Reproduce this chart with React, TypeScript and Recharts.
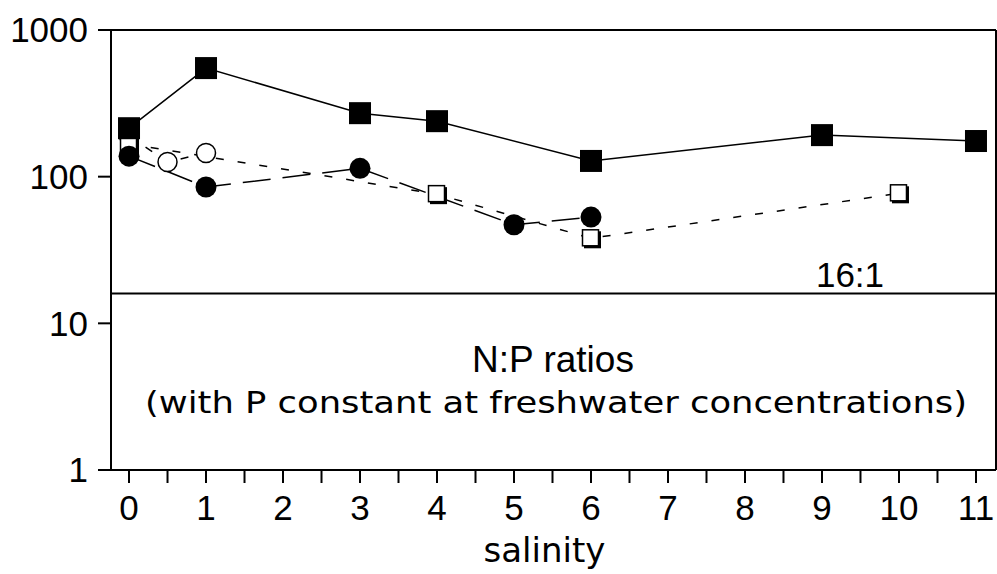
import { LineChart, Line, XAxis, YAxis, ReferenceLine } from "recharts"

// salinity vs N:P ratio, four series
const filledSquareSalinity = [0, 1, 3, 4, 6, 9, 11]
const filledSquareRatio = [214, 550, 271, 239, 128, 192, 175]

const filledCircleSalinity = [0, 1, 3, 5, 6]
const filledCircleRatio = [138, 85, 114, 47, 53]

const openCircleSalinity = [0, 0.5, 1]
const openCircleRatio = [190, 126, 145]

const openSquareSalinity = [0, 4, 6, 10]
const openSquareRatio = [167, 76, 38, 77]

const salinityTicks = [0, 0.5, 1, 1.5, 2, 2.5, 3, 3.5, 4, 4.5, 5, 5.5, 6, 6.5, 7, 7.5, 8, 8.5, 9, 9.5, 10, 10.5, 11]
const ratioTicks = [1, 10, 100, 1000]
const redfieldRatio = 16

const toPoints = (xs: number[], ys: number[]) => xs.map((s, i) => ({ salinity: s, ratio: ys[i] }))

const font = "'Liberation Sans', Arial, sans-serif"
const wideFont = "'DejaVu Sans', sans-serif"
const ink = "#000"

const FilledSquare = (p: any) =>
  p.cx == null ? null : <rect key={`fs-${p.index}`} x={p.cx - 11} y={p.cy - 11} width={22} height={22} fill={ink} />

const FilledCircle = (p: any) =>
  p.cx == null ? null : <circle key={`fc-${p.index}`} cx={p.cx} cy={p.cy} r={10.5} fill={ink} />

const OpenCircle = (p: any) =>
  p.cx == null ? null : (
    <circle key={`oc-${p.index}`} cx={p.cx} cy={p.cy} r={9.5} fill="#fff" stroke={ink} strokeWidth={1.5} />
  )

const OpenSquare = (p: any) =>
  p.cx == null ? null : (
    <g key={`os-${p.index}`}>
      <rect x={p.cx - 7} y={p.cy - 7} width={17} height={17} fill={ink} />
      <rect x={p.cx - 8.5} y={p.cy - 8.5} width={16} height={16} fill="#fff" stroke={ink} strokeWidth={1.5} />
    </g>
  )

const RatioLabel = (props: any) => {
  const vb = props.viewBox
  return (
    <text x={vb.x + vb.width - 146} y={vb.y - 6} textAnchor="middle" fontFamily={font} fontSize={35} fill={ink}>
      16:1
    </text>
  )
}

export default function App() {
  return (
    <div style={{ position: "absolute", left: 0, top: 0, background: "#fff" }}>
      <LineChart width={997} height={574} margin={{ top: 30, right: 1, left: 0, bottom: 0 }}>
        <XAxis
          dataKey="salinity"
          type="number"
          domain={[-0.234, 11.26]}
          allowDataOverflow
          ticks={salinityTicks}
          interval={0}
          tickFormatter={(v: number) => (Number.isInteger(v) ? String(v) : "")}
          tickSize={13}
          tickMargin={12}
          height={104}
          stroke={ink}
          strokeWidth={2}
          tick={{ fontFamily: font, fontSize: 35, fill: ink }}
          label={{
            value: "salinity",
            position: "insideBottom",
            offset: 12,
            dx: -9,
            style: { fontFamily: wideFont, fontSize: 34, fill: ink },
          }}
        />
        <YAxis
          scale="log"
          domain={[1, 1000]}
          allowDataOverflow
          ticks={ratioTicks}
          interval={0}
          width={111}
          tickSize={13}
          tickMargin={10}
          stroke={ink}
          strokeWidth={2}
          tick={{ fontFamily: font, fontSize: 35, fill: ink }}
        />
        <ReferenceLine y={1000} stroke={ink} strokeWidth={2} />
        <ReferenceLine x={11.26} stroke={ink} strokeWidth={2} />
        <ReferenceLine y={redfieldRatio} stroke={ink} strokeWidth={2} label={<RatioLabel />} />

        <Line
          data={toPoints(openCircleSalinity, openCircleRatio)}
          dataKey="ratio"
          stroke={ink}
          strokeWidth={1.5}
          strokeDasharray="8 12"
          dot={OpenCircle}
          activeDot={false}
          isAnimationActive={false}
        />
        <Line
          data={toPoints(openSquareSalinity, openSquareRatio)}
          dataKey="ratio"
          stroke={ink}
          strokeWidth={1.5}
          strokeDasharray="8 14"
          dot={OpenSquare}
          activeDot={false}
          isAnimationActive={false}
        />
        <Line
          data={toPoints(filledSquareSalinity, filledSquareRatio)}
          dataKey="ratio"
          stroke={ink}
          strokeWidth={1.5}
          dot={FilledSquare}
          activeDot={false}
          isAnimationActive={false}
        />
        <Line
          data={toPoints(filledCircleSalinity, filledCircleRatio)}
          dataKey="ratio"
          stroke={ink}
          strokeWidth={1.5}
          strokeDasharray="28 12"
          dot={FilledCircle}
          activeDot={false}
          isAnimationActive={false}
        />

        <text x={553} y={372} textAnchor="middle" fontFamily={font} fontSize={37} fill={ink}>
          N:P ratios
        </text>
        <text
          x={556}
          y={413}
          textAnchor="middle"
          fontFamily={wideFont}
          fontSize={30}
          textLength={822}
          lengthAdjust="spacingAndGlyphs"
          fill={ink}
        >
          (with P constant at freshwater concentrations)
        </text>
      </LineChart>
    </div>
  )
}
